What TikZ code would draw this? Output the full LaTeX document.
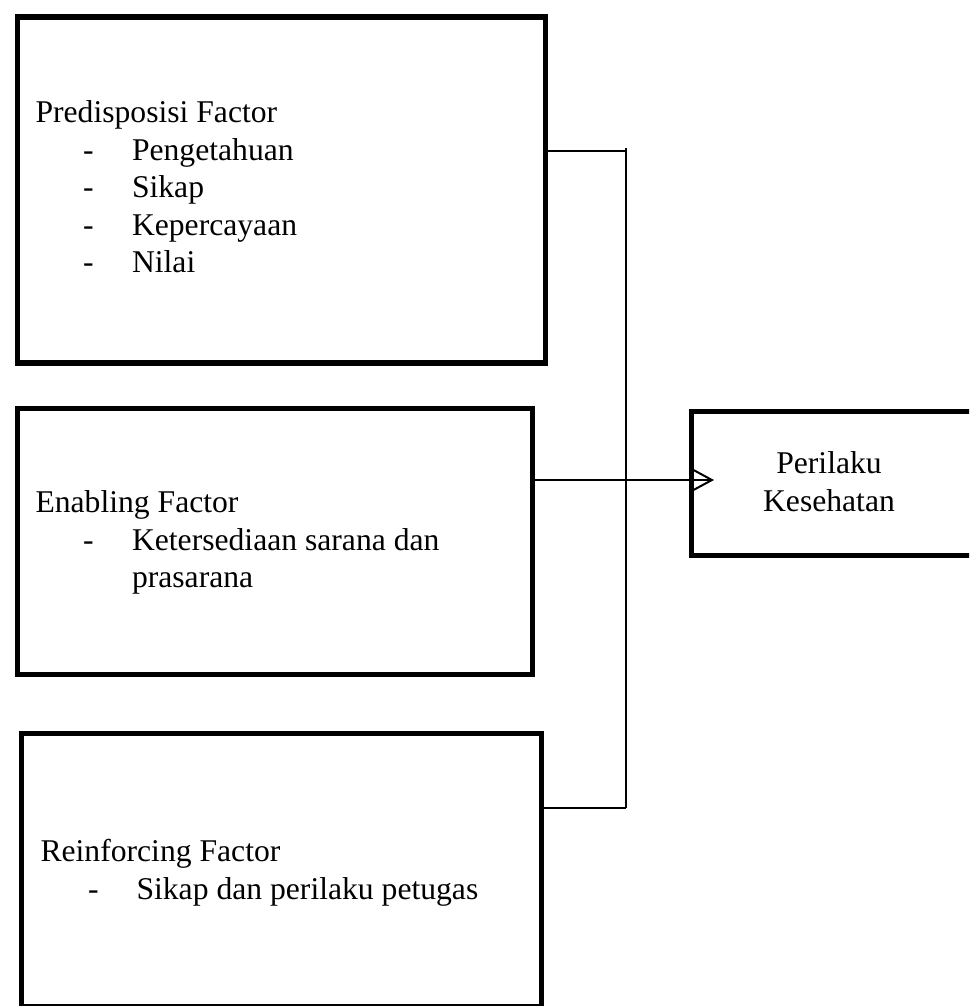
\documentclass[tikz,border=0pt]{standalone}
\usepackage{fontspec}
\setmainfont{Liberation Serif}
\usetikzlibrary{arrows.meta}

\def\u{0.3793pt}

\begin{document}
\begin{tikzpicture}[x=\u,y=-\u,>={Straight Barb[length=7pt,width=7.6pt]},
 font=\fontsize{12pt}{14pt}\selectfont,
 box/.style={draw,line width=5.5*\u,inner sep=0pt,anchor=north west},
 txt/.style={anchor=base west,inner sep=0pt},
 mid/.style={anchor=base,inner sep=0pt},
 conn/.style={line width=2*\u}]
\useasboundingbox (0,0) rectangle (969,1006);
\clip (0,0) rectangle (969,1006);
% the four boxes
\node[box,minimum width=528*\u,minimum height=346*\u] (pred) at (14.5,14.5) {};
\node[box,minimum width=515*\u,minimum height=266*\u] (enab) at (14.5,405.5) {};
\node[box,minimum width=520*\u,minimum height=273*\u] (reinf) at (18.5,730.5) {};
\node[box,minimum width=290*\u,minimum height=144*\u] (perilaku) at (688.5,408.5) {};
% texts
\node[txt] (predT) at (35,123) {Predisposisi Factor};
\foreach \t [count=\i] in {Pengetahuan,Sikap,Kepercayaan,Nilai} {
  \node[txt] (predD\i) at (82.5,{123+37.5*\i}) {-};
  \node[txt] (predI\i) at (131.5,{123+37.5*\i}) {\t};
}
\node[txt] (enabT) at (35,512) {Enabling Factor};
\node[txt] (enabD) at (82.5,550) {-};
\node[txt] (enabI) at (131.5,550) {Ketersediaan sarana dan};
\node[txt] (enabI2) at (131.5,587) {prasarana};
\node[txt] (reinfT) at (40,861) {Reinforcing Factor};
\node[txt] (reinfD) at (87.5,899) {-};
\node[txt] (reinfI) at (136,899) {Sikap dan perilaku petugas};
\node[mid] (perT1) at (829,473) {Perilaku};
\node[mid] (perT2) at (829,511.5) {Kesehatan};
% connectors
\coordinate (j1) at (626,151);
\coordinate (jt) at (626,148);
\coordinate (jb) at (626,808);
\coordinate (tip) at (714,480);
\draw[conn] (pred.east |- j1) -- (j1);
\draw[conn] (jt) -- (jb);
\draw[conn] (reinf.east |- jb) -- (jb);
\draw[conn,->] (enab.east |- tip) -- (tip);
\end{tikzpicture}
\end{document}
